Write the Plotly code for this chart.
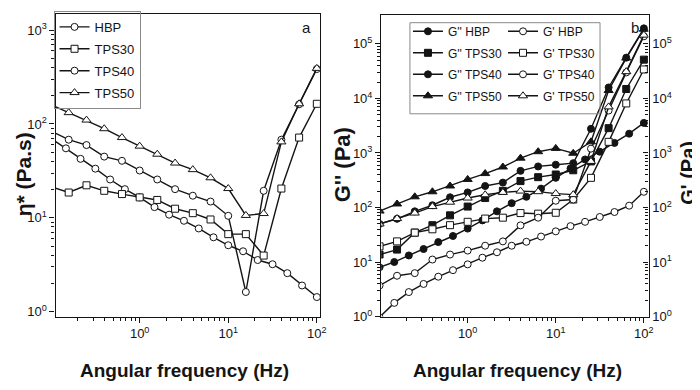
import plotly.graph_objects as go

# ---------------- data ----------------
# frequencies (Hz): 5 points per decade and 6 points per decade
F5 = [0.1, 0.158, 0.251, 0.398, 0.631, 1.0, 1.58, 2.51, 3.98, 6.31, 10.0, 15.8, 25.1, 39.8, 63.1, 100.0]
F6 = [0.1, 0.147, 0.215, 0.316, 0.464, 0.681, 1.0, 1.47, 2.15, 3.16, 4.64, 6.81, 10.0, 14.7, 21.5,
      31.6, 46.4, 68.1, 100.0]

# panel a: complex viscosity eta* (Pa.s)
ETA_HBP = [70, 55, 42.5, 33.4, 25.6, 20.2, 16.5, 13, 10.8, 9.3, 7.7, 6.2, 5.1, 4.4, 3.55, 3.2, 2.57, 1.9, 1.43]
ETA_TPS30 = [21.5, 18.6, 22.2, 19.4, 17.9, 16.5, 15.5, 12.5, 11.2, 9.6, 6.7, 6.7, 3.96, 20.5, 71.6, 164]
ETA_TPS40 = [84, 68, 59.6, 44.9, 40.5, 31.9, 25.6, 20.2, 17.2, 14.9, 10.5, 1.62, 19.4, 68, 162, 385]
ETA_TPS50 = [160, 132, 110, 89, 71.6, 58, 47.6, 38.3, 32.6, 26.7, 20.5, 10.6, 11.1, 64.4, 164, 391]

# panel b: loss modulus G'' and storage modulus G' (Pa)
GPP_HBP = [8, 10, 13.2, 17.3, 23.2, 30, 41, 58, 85, 120, 157, 222, 350, 520, 760, 1055, 1530, 2260, 3560]
GP_HBP = [0.97, 1.78, 2.81, 3.96, 5.38, 7.08, 9.06, 12, 15.1, 19.9, 23.5, 29.3, 36.5, 45.5, 54.6, 67, 82.6, 108, 194]
GPP_TPS30 = [13.7, 16.9, 34.6, 47.4, 71.8, 104, 149, 202, 305, 360, 403, 481, 700, 2850, 14900, 51500]
GP_TPS30 = [19.4, 23.9, 34.6, 39.8, 47.4, 54.6, 62.6, 65, 79, 77, 80, 140, 350, 1600, 8100, 34000]
GPP_TPS40 = [50, 62, 85, 110, 154, 189, 248, 286, 470, 567, 608, 650, 2775, 15900, 56000, 193000]
GP_TPS40 = [3.7, 5.6, 6.25, 11.1, 13.7, 16.2, 19.9, 23.9, 47, 65, 133, 140, 1200, 6000, 30000, 138000]
GPP_TPS50 = [86, 116, 157, 194, 248, 327, 419, 553, 803, 1055, 1213, 987, 1600, 14000, 55000, 186000]
GP_TPS50 = [50, 62.6, 79, 104, 125, 149, 171, 189, 200, 195, 180, 172, 700, 7000, 31000, 145000]

LEG_A = ["HBP", "TPS30", "TPS40", "TPS50"]
LEG_GPP = ["G'' HBP", "G'' TPS30", "G'' TPS40", "G'' TPS50"]
LEG_GP = ["G' HBP", "G' TPS30", "G' TPS40", "G' TPS50"]

X_TICKS = [0.1, 1, 10, 100]
X_TEXT = ["10<sup>-1</sup>", "10<sup>0</sup>", "10<sup>1</sup>", "10<sup>2</sup>"]
YA_TICKS = [1, 10, 100, 1000]
YA_TEXT = ["10<sup>0</sup>", "10<sup>1</sup>", "10<sup>2</sup>", "10<sup>3</sup>"]
YB_TICKS = [1, 10, 100, 1000, 10000, 100000]
YB_TEXT = ["10<sup>0</sup>", "10<sup>1</sup>", "10<sup>2</sup>", "10<sup>3</sup>", "10<sup>4</sup>", "10<sup>5</sup>"]

# ---------------- style ----------------
FONT = "Liberation Sans, Arial, sans-serif"
INK = "#141414"
W, H = 700, 390


def px_x(p):
    return p / W


def px_y(p):
    return (H - p) / H


fig = go.Figure()


def add(x, y, name, sym, filled, xa, ya, legend, group):
    fig.add_trace(go.Scatter(
        x=x, y=y, name=name, mode="lines+markers", xaxis=xa, yaxis=ya, legend=legend,
        legendgroup=group,
        line=dict(color=INK, width=1.4),
        marker=dict(symbol=sym, size=7 if sym != "triangle-up" else 8,
                    color=INK if filled else "white",
                    line=dict(color=INK, width=1)),
    ))


SYMS = ["circle", "square", "circle", "triangle-up"]

# panel a
for i, (name, xs, ys, s) in enumerate(zip(LEG_A, [F6, F5, F5, F5],
                                          [ETA_HBP, ETA_TPS30, ETA_TPS40, ETA_TPS50], SYMS)):
    add(xs, ys, name, s, False, "x", "y", "legend", "a%d" % i)

# panel b: G'' (filled) then G' (open)
for i, (name, xs, ys, s) in enumerate(zip(LEG_GPP, [F6, F5, F5, F5],
                                          [GPP_HBP, GPP_TPS30, GPP_TPS40, GPP_TPS50], SYMS)):
    add(xs, ys, name, s, True, "x2", "y2", "legend2", "bpp%d" % i)
for i, (name, xs, ys, s) in enumerate(zip(LEG_GP, [F6, F5, F5, F5],
                                          [GP_HBP, GP_TPS30, GP_TPS40, GP_TPS50], SYMS)):
    add(xs, ys, name, s, False, "x2", "y3", "legend3", "bp%d" % i)

MINOR_X = [m * 10 ** e for e in range(-1, 2) for m in range(2, 10)]
MINOR_YA = [m * 10 ** e for e in range(0, 3) for m in range(2, 10)]
MINOR_YB = [m * 10 ** e for e in range(0, 5) for m in range(2, 10)]

tickfont = dict(family=FONT, size=13, color=INK)
common = dict(type="log", showgrid=False, zeroline=False, showline=True, linecolor=INK,
              linewidth=1.4, ticklen=5, tickwidth=1, tickcolor=INK, tickfont=tickfont,
              tickmode="array")
legfont = dict(family=FONT, size=12, color=INK)

fig.update_layout(
    width=W, height=H, autosize=False,
    margin=dict(l=0, r=0, t=0, b=0),
    paper_bgcolor="white", plot_bgcolor="white",
    font=dict(family=FONT, color=INK),
    xaxis=dict(common, domain=[px_x(48), px_x(315)], range=[-0.95, 2.034], anchor="y",
               mirror=True, ticks="outside", tickvals=X_TICKS, ticktext=X_TEXT,
               minor=dict(tickvals=MINOR_X, ticks="outside", ticklen=3, tickcolor=INK)),
    yaxis=dict(common, domain=[px_y(315), px_y(6)], range=[-0.052, 3.173], anchor="x",
               mirror=True, ticks="outside", tickvals=YA_TICKS, ticktext=YA_TEXT,
               minor=dict(tickvals=MINOR_YA, ticks="outside", ticklen=3, tickcolor=INK)),
    xaxis2=dict(common, domain=[px_x(377), px_x(647)], range=[-0.981, 2.053], anchor="y2",
                mirror=True, ticks="outside", tickvals=X_TICKS, ticktext=X_TEXT,
                minor=dict(tickvals=MINOR_X, ticks="outside", ticklen=3, tickcolor=INK)),
    yaxis2=dict(common, domain=[px_y(315), px_y(7)], range=[0, 5.533], anchor="x2",
                ticks="outside", tickvals=YB_TICKS, ticktext=YB_TEXT,
                minor=dict(tickvals=MINOR_YB, ticks="outside", ticklen=3, tickcolor=INK)),
    yaxis3=dict(common, range=[0, 5.533], anchor="x2", overlaying="y2", side="right",
                ticks="inside", tickvals=YB_TICKS, ticktext=YB_TEXT,
                minor=dict(tickvals=MINOR_YB, ticks="inside", ticklen=3, tickcolor=INK)),
    legend=dict(x=px_x(46), y=px_y(3), xanchor="left", yanchor="top",
                bordercolor="#8a8a8a", borderwidth=1, bgcolor="rgba(255,255,255,0)",
                font=dict(family=FONT, size=13, color=INK), tracegroupgap=2,
                itemwidth=30),
    legend2=dict(x=px_x(404), y=px_y(9), xanchor="left", yanchor="top",
                 bgcolor="rgba(255,255,255,0)", font=legfont, tracegroupgap=2.5,
                 itemwidth=30),
    legend3=dict(x=px_x(500), y=px_y(9), xanchor="left", yanchor="top",
                 bgcolor="rgba(255,255,255,0)", font=legfont, tracegroupgap=2.5,
                 itemwidth=30),
    shapes=[dict(type="rect", xref="paper", yref="paper",
                 x0=px_x(406), x1=px_x(598), y0=px_y(108), y1=px_y(15),
                 line=dict(color="#8a8a8a", width=1))],
    showlegend=True,
)

ann = []


def text(x, y, s, size, angle=0):
    ann.append(dict(x=px_x(x), y=px_y(y), xref="paper", yref="paper", text=s, showarrow=False,
                    textangle=angle, font=dict(family=FONT, size=size, color=INK),
                    xanchor="center", yanchor="middle"))


text(16, 170, "<b>η* (Pa.s)</b>", 21, -90)
text(338, 160, "<b>G'' (Pa)</b>", 22, -90)
text(686, 168, "<b>G' (Pa)</b>", 20, -90)
text(178, 370, "<b>Angular frequency (Hz)</b>", 19)
text(515, 370, "<b>Angular frequency (Hz)</b>", 19)
text(302, 20, "a", 15)
text(633, 20, "b", 15)
fig.update_layout(annotations=ann)

fig.write_html("out.html")
